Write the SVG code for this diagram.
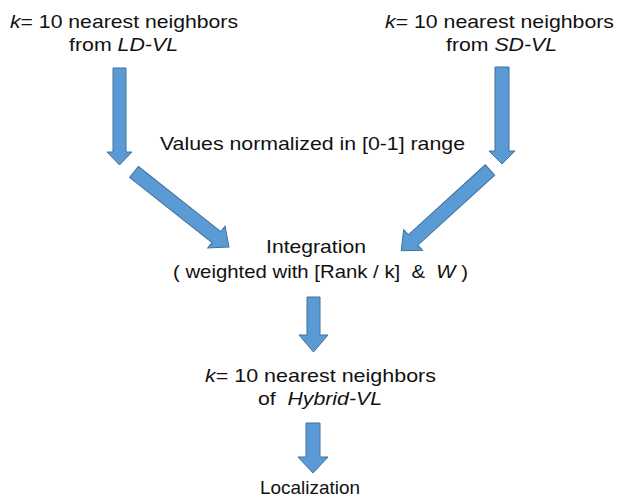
<svg xmlns="http://www.w3.org/2000/svg" width="619" height="502" viewBox="0 0 619 502">
<style>
text{font-family:"Liberation Sans",Arial,sans-serif;font-size:19px;fill:#111}
.i{font-style:italic}
.arr{fill:#5B9BD5;stroke:#41719C;stroke-width:1}
</style>
<rect width="619" height="502" fill="#fff"/>
<g id="connectors">
<polygon class="arr" points="113,68 126,68 126,152 132,152 119.5,165 107,152 113,152"/>
<polygon class="arr" points="495,67 509,67 509,151 515,151 502,164 489,151 495,151"/>
<polygon class="arr" transform="translate(134,172) rotate(38.3)" points="0,-7 105,-7 105,-14 121,0 105,14 105,7 0,7"/>
<polygon class="arr" transform="translate(490,170) rotate(137.7)" points="0,-7 104,-7 104,-14 120,0 104,14 104,7 0,7"/>
<polygon class="arr" points="307,297 320,297 320,335 328,335 313.5,352 299,335 307,335"/>
<polygon class="arr" points="306,423 320,423 320,457 328,457 313,473 298,457 306,457"/>
</g>
<g id="ld">
<text x="10" y="28" textLength="228" lengthAdjust="spacingAndGlyphs"><tspan class="i">k</tspan>= 10 nearest neighbors</text>
<text x="69" y="51" textLength="109" lengthAdjust="spacingAndGlyphs">from <tspan class="i">LD-VL</tspan></text>
</g>
<g id="sd">
<text x="385" y="28" textLength="229" lengthAdjust="spacingAndGlyphs"><tspan class="i">k</tspan>= 10 nearest neighbors</text>
<text x="446" y="51" textLength="111" lengthAdjust="spacingAndGlyphs">from <tspan class="i">SD-VL</tspan></text>
</g>
<g id="normalize">
<text x="160" y="150" textLength="305" lengthAdjust="spacingAndGlyphs">Values normalized in [0-1] range</text>
</g>
<g id="integration">
<text x="266" y="253" textLength="100" lengthAdjust="spacingAndGlyphs">Integration</text>
<text x="173" y="278" textLength="295" lengthAdjust="spacingAndGlyphs" xml:space="preserve">( weighted with [Rank / k]  &amp;  <tspan class="i">W</tspan> )</text>
</g>
<g id="hybrid">
<text x="205" y="382" textLength="231" lengthAdjust="spacingAndGlyphs"><tspan class="i">k</tspan>= 10 nearest neighbors</text>
<text x="258" y="405" textLength="124" lengthAdjust="spacingAndGlyphs" xml:space="preserve">of  <tspan class="i">Hybrid-VL</tspan></text>
</g>
<g id="localization">
<text x="260" y="494" textLength="100" lengthAdjust="spacingAndGlyphs">Localization</text>
</g>
</svg>
